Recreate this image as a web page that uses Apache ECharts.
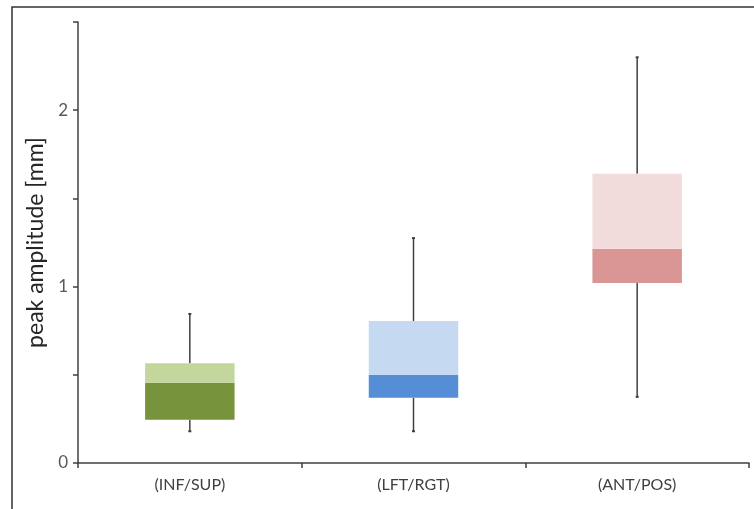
<!DOCTYPE html>
<html>
<head>
<meta charset="utf-8">
<script src="https://cdn.jsdelivr.net/npm/echarts@6/dist/echarts.min.js"></script>
<style>
  html, body { margin: 0; padding: 0; background: #ffffff; }
  #chart { width: 754px; height: 509px; }
</style>
</head>
<body>
<div id="chart"></div>
<script>
const categories = ['(INF/SUP)', '(LFT/RGT)', '(ANT/POS)'];
const minVals    = [0.18, 0.18, 0.375];
const q1Vals     = [0.245, 0.37, 1.02];
const medianVals = [0.455, 0.50, 1.215];
const q3Vals     = [0.565, 0.805, 1.64];
const maxVals    = [0.845, 1.275, 2.30];

const darkColors  = ['#77933c', '#558ed5', '#d99694'];
const lightColors = ['#c3d69b', '#c5d9f1', '#f2dcdb'];

const chart = echarts.init(document.getElementById('chart'), null, { renderer: 'canvas' });

const baseData  = q1Vals.map(v => v);
const lowerData = medianVals.map((m, i) => ({ value: m - q1Vals[i], itemStyle: { color: darkColors[i] } }));
const upperData = q3Vals.map((q, i) => ({ value: q - medianVals[i], itemStyle: { color: lightColors[i] } }));
const whiskerData = categories.map((c, i) => [i, minVals[i], q1Vals[i], q3Vals[i], maxVals[i]]);

const option = {
  backgroundColor: '#ffffff',
  animation: false,
  textStyle: { fontFamily: 'Lato, "Open Sans", sans-serif' },
  graphic: [{
    type: 'rect',
    shape: { x: 12, y: 7, width: 760, height: 520 },
    style: { fill: 'none', stroke: '#333333', lineWidth: 1.5 },
    silent: true, z: 100
  }],
  grid: { left: 78, right: 5, top: 22, bottom: 46, containLabel: false },
  xAxis: {
    type: 'category',
    data: categories,
    boundaryGap: true,
    axisLine: { lineStyle: { color: '#404040', width: 1.5 } },
    axisTick: { show: true, alignWithLabel: false, length: 5, lineStyle: { color: '#404040', width: 1.5 } },
    axisLabel: { color: '#404040', fontSize: 16, margin: 14, fontFamily: 'Lato, sans-serif' }
  },
  yAxis: {
    type: 'value',
    min: 0, max: 2.5, interval: 0.5,
    name: 'peak amplitude [mm]',
    nameLocation: 'middle',
    nameGap: 30,
    nameTextStyle: { color: '#262626', fontSize: 23, fontFamily: 'Lato, sans-serif' },
    axisLine: { show: true, lineStyle: { color: '#404040', width: 1.5 } },
    axisTick: { show: true, length: 5, lineStyle: { color: '#404040', width: 1.5 } },
    splitLine: { show: false },
    axisLabel: {
      color: '#595959', fontSize: 17, margin: 10, fontFamily: 'Lato, sans-serif',
      formatter: v => (Math.abs(v - Math.round(v)) < 1e-9 ? String(Math.round(v)) : '')
    }
  },
  series: [
    {
      type: 'custom',
      name: 'whiskers',
      z: 1,
      data: whiskerData,
      renderItem: function (params, api) {
        const x = api.value(0);
        const pMin = api.coord([x, api.value(1)]);
        const pQ1 = api.coord([x, api.value(2)]);
        const pQ3 = api.coord([x, api.value(3)]);
        const pMax = api.coord([x, api.value(4)]);
        const cap = 1.5;
        const st = { stroke: '#404040', lineWidth: 1.5 };
        return {
          type: 'group',
          children: [
            { type: 'line', shape: { x1: pMin[0], y1: pMin[1], x2: pQ1[0], y2: pQ1[1] }, style: st },
            { type: 'line', shape: { x1: pQ3[0], y1: pQ3[1], x2: pMax[0], y2: pMax[1] }, style: st },
            { type: 'line', shape: { x1: pMin[0] - cap, y1: pMin[1], x2: pMin[0] + cap, y2: pMin[1] }, style: { stroke: '#404040', lineWidth: 2 } },
            { type: 'line', shape: { x1: pMax[0] - cap, y1: pMax[1], x2: pMax[0] + cap, y2: pMax[1] }, style: { stroke: '#404040', lineWidth: 2 } }
          ]
        };
      }
    },
    {
      type: 'bar', name: 'base', stack: 'box', z: 2, barWidth: '40%',
      data: baseData, itemStyle: { color: 'rgba(0,0,0,0)' }, silent: true
    },
    {
      type: 'bar', name: 'lower', stack: 'box', z: 2, barWidth: '40%',
      data: lowerData
    },
    {
      type: 'bar', name: 'upper', stack: 'box', z: 2, barWidth: '40%',
      data: upperData
    }
  ]
};
chart.setOption(option);
</script>
</body>
</html>
